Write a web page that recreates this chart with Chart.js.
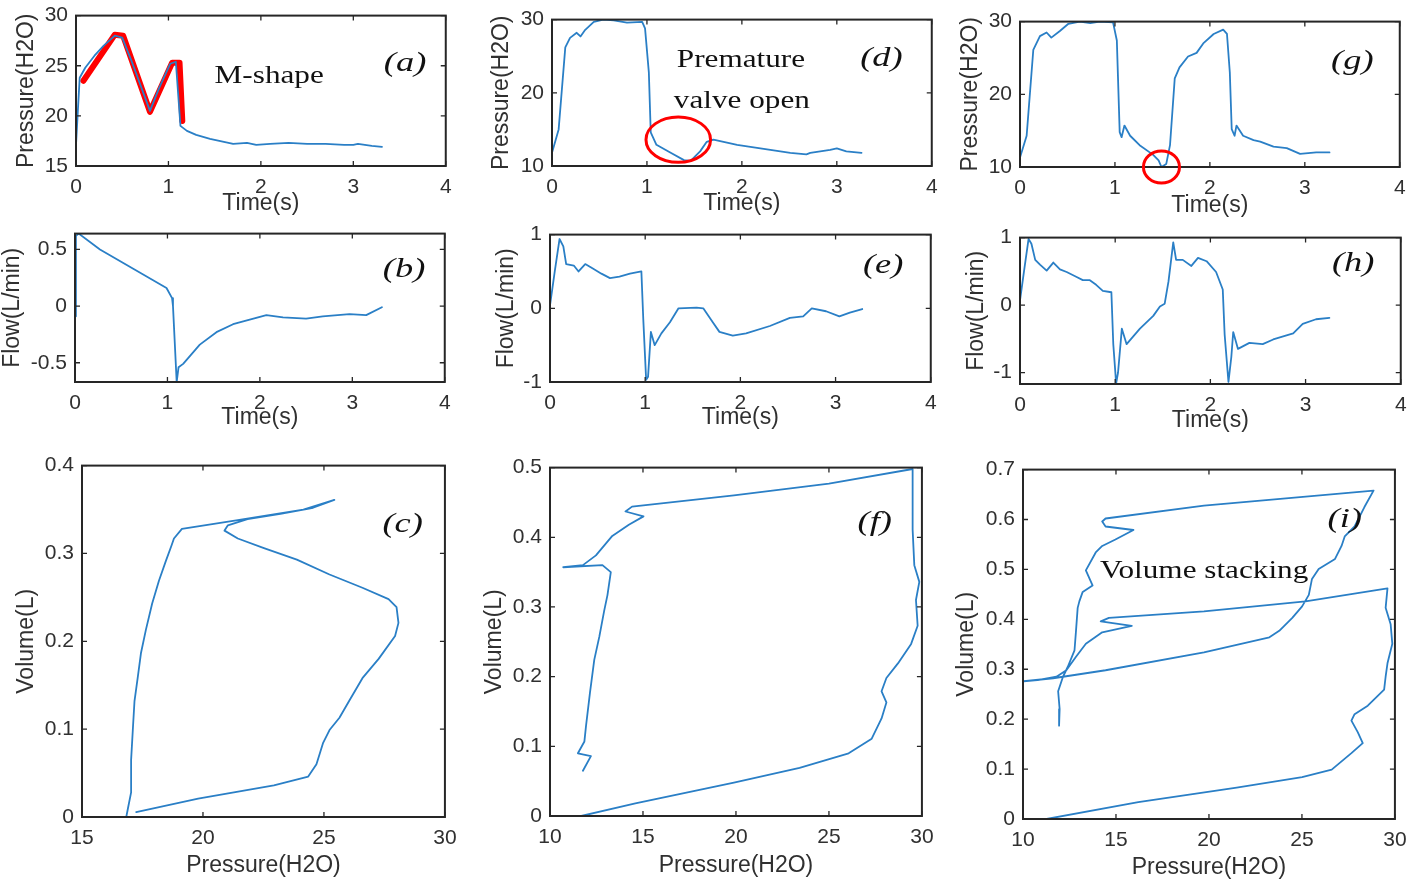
<!DOCTYPE html>
<html><head><meta charset="utf-8">
<script src="https://cdn.jsdelivr.net/npm/chart.js@4.4.1/dist/chart.umd.min.js"></script>
<style>
body{margin:0;background:#fff;width:1416px;height:885px;position:relative;overflow:hidden}
canvas{position:absolute}
</style>
</head><body>
<script>
// ---------- tick labels ----------
const timeTicks = [0, 1, 2, 3, 4];
const aPressTicks = [15, 20, 25, 30];
const dgPressTicks = [10, 20, 30];
const bFlowTicks = [-0.5, 0, 0.5];
const ehFlowTicks = [-1, 0, 1];
const cPressTicks = [15, 20, 25, 30];
const fiPressTicks = [10, 15, 20, 25, 30];
const cVolTicks = [0, 0.1, 0.2, 0.3, 0.4];
const fVolTicks = [0, 0.1, 0.2, 0.3, 0.4, 0.5];
const iVolTicks = [0, 0.1, 0.2, 0.3, 0.4, 0.5, 0.6, 0.7];

// ---------- (a) pressure, M-shape ----------
const aTime = [0, 0.02, 0.04, 0.1, 0.2, 0.3, 0.42, 0.5, 0.6, 0.7, 0.8, 0.9, 1.02, 1.08, 1.13, 1.2, 1.3, 1.45, 1.6, 1.7, 1.85, 1.95, 2.1, 2.3, 2.5, 2.7, 2.9, 3.0, 3.05, 3.2, 3.31];
const aPressure = [17.1, 20.5, 23.8, 24.8, 26.0, 27.0, 28.0, 27.8, 25.5, 23.0, 20.5, 22.8, 25.2, 25.4, 19.0, 18.5, 18.1, 17.7, 17.4, 17.2, 17.3, 17.1, 17.2, 17.3, 17.2, 17.2, 17.1, 17.1, 17.2, 17.0, 16.9];
const aMarkTime = [0.08, 0.42, 0.51, 0.8, 1.04, 1.12, 1.15];
const aMarkPressure = [23.5, 28.1, 28.0, 20.4, 25.3, 25.3, 19.5];

// ---------- (b) flow ----------
const bTime = [0, 0.01, 0.04, 0.27, 0.63, 0.99, 1.05, 1.06, 1.1, 1.12, 1.17, 1.35, 1.53, 1.71, 1.89, 2.07, 2.25, 2.5, 2.68, 2.97, 3.15, 3.32];
const bFlow = [-0.09, 0.62, 0.64, 0.5, 0.33, 0.16, 0.07, 0.0, -0.67, -0.54, -0.51, -0.34, -0.23, -0.16, -0.12, -0.08, -0.1, -0.11, -0.09, -0.07, -0.08, -0.01];

// ---------- (c) P-V loop ----------
const cPressure = [17.24, 19.8, 22.93, 24.35, 24.69, 24.96, 25.23, 25.64, 26.04, 26.59, 27.26, 27.94, 28.08, 28.0, 27.67, 26.59, 25.23, 23.88, 22.52, 21.44, 20.89, 21.03, 21.84, 23.2, 24.55, 25.43, 24.15, 21.44, 19.13, 18.8, 18.7, 18.46, 18.18, 17.9, 17.64, 17.44, 17.3, 17.17, 17.1, 17.03, 17.03, 16.9, 16.83];
const cVolume = [0.0055, 0.021, 0.036, 0.046, 0.06, 0.084, 0.099, 0.113, 0.132, 0.158, 0.18, 0.206, 0.221, 0.239, 0.248, 0.261, 0.276, 0.293, 0.306, 0.317, 0.326, 0.332, 0.339, 0.345, 0.352, 0.361, 0.35, 0.338, 0.328, 0.317, 0.309, 0.291, 0.269, 0.243, 0.213, 0.187, 0.158, 0.132, 0.099, 0.065, 0.028, 0.01, 0];

// ---------- (d) pressure, premature valve open ----------
const dTime = [0, 0.07, 0.14, 0.19, 0.26, 0.3, 0.35, 0.44, 0.54, 0.65, 0.79, 0.95, 0.98, 1.02, 1.04, 1.1, 1.25, 1.39, 1.46, 1.56, 1.63, 1.7, 1.95, 2.3, 2.51, 2.68, 2.72, 2.93, 3.0, 3.1, 3.26];
const dPressure = [11.8, 15, 26.2, 27.5, 28.2, 27.7, 28.6, 29.7, 30, 29.9, 29.6, 29.7, 28.8, 22.8, 14.6, 12.9, 11.8, 10.8, 10.7, 12, 13.3, 13.6, 12.9, 12.2, 11.8, 11.6, 11.8, 12.2, 12.4, 12.0, 11.8];

// ---------- (e) flow ----------
const eTime = [0, 0.05, 0.1, 0.14, 0.17, 0.25, 0.3, 0.37, 0.45, 0.54, 0.63, 0.73, 0.84, 0.96, 0.98, 1.01, 1.03, 1.06, 1.1, 1.17, 1.26, 1.35, 1.54, 1.61, 1.71, 1.78, 1.92, 2.06, 2.31, 2.52, 2.66, 2.75, 2.9, 3.04, 3.15, 3.28];
const eFlow = [0.04, 0.5, 0.94, 0.84, 0.6, 0.58, 0.5, 0.6, 0.54, 0.47, 0.41, 0.43, 0.47, 0.5, -0.15, -0.97, -0.93, -0.32, -0.5, -0.34, -0.19, 0, 0.01, 0, -0.19, -0.32, -0.37, -0.34, -0.24, -0.13, -0.11, 0, -0.04, -0.11, -0.06, -0.01];

// ---------- (f) P-V loop ----------
const fPressure = [11.68, 14.59, 19.89, 23.42, 26.06, 27.3, 27.83, 28.09, 27.83, 28.09, 28.71, 29.42, 29.77, 29.68, 29.86, 29.59, 29.5, 29.5, 25.0, 19.89, 14.41, 14.06, 15.03, 14.24, 13.35, 12.47, 11.77, 10.71, 12.82, 13.27, 13.09, 12.91, 12.65, 12.38, 12.15, 11.94, 11.85, 11.5, 12.2, 11.77];
const fVolume = [0, 0.018, 0.048, 0.069, 0.09, 0.111, 0.14, 0.163, 0.179, 0.198, 0.219, 0.247, 0.273, 0.31, 0.336, 0.36, 0.411, 0.498, 0.477, 0.46, 0.444, 0.437, 0.43, 0.418, 0.402, 0.374, 0.36, 0.357, 0.36, 0.35, 0.317, 0.294, 0.257, 0.224, 0.177, 0.13, 0.107, 0.09, 0.086, 0.065];

// ---------- (g) pressure, double trigger ----------
const gTime = [0, 0.07, 0.14, 0.21, 0.28, 0.33, 0.42, 0.51, 0.63, 0.74, 0.84, 0.98, 1.02, 1.05, 1.07, 1.1, 1.16, 1.26, 1.4, 1.46, 1.49, 1.54, 1.58, 1.63, 1.68, 1.77, 1.86, 1.93, 2.04, 2.14, 2.18, 2.21, 2.23, 2.26, 2.28, 2.35, 2.46, 2.53, 2.67, 2.81, 2.95, 3.12, 3.26];
const gPressure = [11.3, 14.3, 26.1, 28, 28.5, 27.8, 28.7, 29.7, 30, 29.8, 30, 29.9, 27.4, 14.8, 14.1, 15.7, 14.3, 13, 11.7, 10.9, 10, 10.4, 13, 22.2, 23.7, 25.2, 25.7, 27, 28.3, 28.9, 28.3, 23, 15.2, 14.3, 15.7, 14.3, 13.7, 13.5, 12.8, 12.6, 11.8, 12, 12];

// ---------- (h) flow ----------
const hTime = [0, 0.05, 0.09, 0.12, 0.16, 0.21, 0.28, 0.35, 0.42, 0.49, 0.59, 0.66, 0.73, 0.8, 0.87, 0.96, 0.98, 1.01, 1.03, 1.07, 1.12, 1.26, 1.4, 1.47, 1.52, 1.56, 1.61, 1.64, 1.71, 1.8, 1.87, 1.96, 2.06, 2.13, 2.15, 2.19, 2.22, 2.24, 2.29, 2.41, 2.55, 2.66, 2.87, 2.97, 3.11, 3.25];
const hFlow = [0.07, 0.58, 0.98, 0.91, 0.67, 0.6, 0.51, 0.63, 0.53, 0.49, 0.42, 0.37, 0.37, 0.3, 0.21, 0.19, -0.58, -1.16, -1.0, -0.35, -0.58, -0.35, -0.16, -0.02, 0.02, 0.35, 0.93, 0.67, 0.67, 0.58, 0.7, 0.65, 0.49, 0.23, -0.44, -1.14, -0.77, -0.4, -0.65, -0.56, -0.58, -0.51, -0.42, -0.28, -0.21, -0.19];

// ---------- (i) P-V loop, volume stacking ----------
const iPressure = [11.27, 16.2, 21.49, 25.01, 26.6, 27.66, 28.27, 28.0, 27.66, 27.83, 28.54, 29.42, 29.5, 29.6, 29.86, 29.77, 29.5, 29.6, 25.19, 19.73, 14.62, 14.18, 15.85, 14.26, 13.38, 12.85, 12.33, 11.8, 10.92, 10.04, 11.62, 14.44, 19.73, 23.25, 23.78, 24.48, 25.01, 25.37, 25.54, 25.9, 26.78, 27.13, 27.3, 27.83, 28.36, 28.85, 19.73, 14.44, 14.26, 14.44, 15.94, 14.97, 14.26, 13.91, 13.38, 13.74, 13.21, 13.03, 12.94, 12.85, 12.77, 12.41, 12.15, 11.89, 11.97, 11.94];
const iVolume = [0, 0.034, 0.063, 0.084, 0.099, 0.132, 0.152, 0.174, 0.197, 0.21, 0.227, 0.259, 0.285, 0.312, 0.351, 0.39, 0.423, 0.462, 0.436, 0.416, 0.403, 0.396, 0.387, 0.374, 0.351, 0.325, 0.298, 0.285, 0.279, 0.276, 0.282, 0.298, 0.334, 0.364, 0.377, 0.403, 0.426, 0.449, 0.481, 0.501, 0.521, 0.547, 0.566, 0.586, 0.625, 0.658, 0.628, 0.602, 0.596, 0.586, 0.579, 0.56, 0.547, 0.534, 0.498, 0.468, 0.455, 0.436, 0.423, 0.377, 0.338, 0.305, 0.285, 0.256, 0.22, 0.187];

// ---------- styles ----------
const SANS = "'Liberation Sans', Arial, sans-serif";
const SERIF = "'Liberation Serif', 'Times New Roman', serif";
const TXT = '#303030';
const AXIS = '#262626';
const BLUE = '#2a7fc6';
const RED = '#ff0000';
const TICK_SIZE = 21, TITLE_SIZE = 23, LH = 1.2;

const framePlugin = {
  id: 'frame',
  afterDraw(chart) {
    const cfg = chart.options.plugins.frame;
    const {ctx, chartArea: {left, top, right, bottom}} = chart;
    const xs = chart.scales.x, ys = chart.scales.y;
    ctx.save();
    ctx.strokeStyle = AXIS;
    ctx.lineWidth = 1.3;
    ctx.beginPath();
    cfg.xTicks.forEach(v => {
      const p = xs.getPixelForValue(v);
      ctx.moveTo(p, bottom); ctx.lineTo(p, bottom - 5);
      ctx.moveTo(p, top); ctx.lineTo(p, top + 5);
    });
    cfg.yTicks.forEach(v => {
      const p = ys.getPixelForValue(v);
      ctx.moveTo(left, p); ctx.lineTo(left + 5, p);
      ctx.moveTo(right, p); ctx.lineTo(right - 5, p);
    });
    ctx.stroke();
    ctx.lineWidth = 2;
    ctx.strokeRect(left, top, right - left, bottom - top);
    (cfg.ellipses || []).forEach(e => {
      const cx = xs.getPixelForValue(e.x), cy = ys.getPixelForValue(e.y);
      const rx = Math.abs(xs.getPixelForValue(e.x + e.rx) - cx);
      const ry = Math.abs(ys.getPixelForValue(e.y + e.ry) - cy);
      ctx.strokeStyle = RED; ctx.lineWidth = 3;
      ctx.beginPath(); ctx.ellipse(cx, cy, rx, ry, 0, 0, Math.PI * 2); ctx.stroke();
    });
    (cfg.texts || []).forEach(t => {
      const px = xs.getPixelForValue(t.x), py = ys.getPixelForValue(t.y);
      ctx.save();
      ctx.translate(px, py);
      ctx.scale(t.sx || 1.2, 1);
      ctx.fillStyle = '#111';
      ctx.font = t.font;
      ctx.textAlign = 'center';
      ctx.textBaseline = 'middle';
      ctx.fillText(t.text, 0, 0);
      ctx.restore();
    });
    ctx.restore();
  }
};

const LABEL_FONT = 'italic 28px ' + SERIF;
const NOTE_FONT = '26px ' + SERIF;

const panels = [
  { rect: {l: 76, t: 7, r: 446, b: 166}, xMin: 0, xMax: 4, yMin: 15, yMax: 30, xTicks: timeTicks, yTicks: aPressTicks,
    xTitle: 'Time(s)', yTitle: 'Pressure(H2O)', yTitleX: 27, xTitleY: 204,
    series: [{xs: aTime, ys: aPressure, color: BLUE, width: 1.8}, {xs: aMarkTime, ys: aMarkPressure, color: RED, width: 6}],
    texts: [{text: '(a)', x: 3.56, y: 25.2, font: LABEL_FONT, sx: 1.3}, {text: 'M-shape', x: 2.09, y: 24.0, font: NOTE_FONT}] },
  { rect: {l: 552, t: 11, r: 932, b: 166}, xMin: 0, xMax: 4, yMin: 10, yMax: 30, xTicks: timeTicks, yTicks: dgPressTicks,
    xTitle: 'Time(s)', yTitle: 'Pressure(H2O)', yTitleX: 502, xTitleY: 204,
    series: [{xs: dTime, ys: dPressure, color: BLUE, width: 1.8}],
    ellipses: [{x: 1.33, y: 13.6, rx: 0.34, ry: 3.1}],
    texts: [{text: '(d)', x: 3.47, y: 24.6, font: LABEL_FONT, sx: 1.3}, {text: 'Premature', x: 1.99, y: 24.5, font: NOTE_FONT}, {text: 'valve open', x: 2.0, y: 18.9, font: NOTE_FONT}] },
  { rect: {l: 1020, t: 13, r: 1400, b: 167}, xMin: 0, xMax: 4, yMin: 10, yMax: 30, xTicks: timeTicks, yTicks: dgPressTicks,
    xTitle: 'Time(s)', yTitle: 'Pressure(H2O)', yTitleX: 971, xTitleY: 206,
    series: [{xs: gTime, ys: gPressure, color: BLUE, width: 1.8}],
    ellipses: [{x: 1.49, y: 10.0, rx: 0.19, ry: 2.2}],
    texts: [{text: '(g)', x: 3.5, y: 24.5, font: LABEL_FONT, sx: 1.3}] },
  { rect: {l: 75, t: 225, r: 445, b: 382}, xMin: 0, xMax: 4, yMin: -0.67, yMax: 0.64, xTicks: timeTicks, yTicks: bFlowTicks,
    xTitle: 'Time(s)', yTitle: 'Flow(L/min)', yTitleX: 13, xTitleY: 418,
    series: [{xs: bTime, ys: bFlow, color: BLUE, width: 1.8}],
    texts: [{text: '(b)', x: 3.56, y: 0.325, font: LABEL_FONT, sx: 1.3}] },
  { rect: {l: 550, t: 226, r: 931, b: 382}, xMin: 0, xMax: 4, yMin: -1, yMax: 1, xTicks: timeTicks, yTicks: ehFlowTicks,
    xTitle: 'Time(s)', yTitle: 'Flow(L/min)', yTitleX: 507, xTitleY: 418,
    series: [{xs: eTime, ys: eFlow, color: BLUE, width: 1.8}],
    texts: [{text: '(e)', x: 3.5, y: 0.58, font: LABEL_FONT, sx: 1.3}] },
  { rect: {l: 1020, t: 229, r: 1401, b: 384}, xMin: 0, xMax: 4, yMin: -1.17, yMax: 1.0, xTicks: timeTicks, yTicks: ehFlowTicks,
    xTitle: 'Time(s)', yTitle: 'Flow(L/min)', yTitleX: 977, xTitleY: 421,
    series: [{xs: hTime, ys: hFlow, color: BLUE, width: 1.8}],
    texts: [{text: '(h)', x: 3.5, y: 0.61, font: LABEL_FONT, sx: 1.3}] },
  { rect: {l: 82, t: 457, r: 451, b: 817}, xMin: 15, xMax: 30, yMin: 0, yMax: 0.4, xTicks: cPressTicks, yTicks: cVolTicks,
    xTitle: 'Pressure(H2O)', yTitle: 'Volume(L)', yTitleX: 27, xTitleY: 866,
    series: [{xs: cPressure, ys: cVolume, color: BLUE, width: 1.8}],
    texts: [{text: '(c)', x: 28.25, y: 0.333, font: LABEL_FONT, sx: 1.3}] },
  { rect: {l: 550, t: 459, r: 928, b: 816}, xMin: 10, xMax: 30, yMin: 0, yMax: 0.5, xTicks: fiPressTicks, yTicks: fVolTicks,
    xTitle: 'Pressure(H2O)', yTitle: 'Volume(L)', yTitleX: 495, xTitleY: 866,
    series: [{xs: fPressure, ys: fVolume, color: BLUE, width: 1.8}],
    texts: [{text: '(f)', x: 27.46, y: 0.421, font: LABEL_FONT, sx: 1.3}] },
  { rect: {l: 1023, t: 461, r: 1401, b: 819}, xMin: 10, xMax: 30, yMin: 0, yMax: 0.7, xTicks: fiPressTicks, yTicks: iVolTicks,
    xTitle: 'Pressure(H2O)', yTitle: 'Volume(L)', yTitleX: 967, xTitleY: 868,
    series: [{xs: iPressure, ys: iVolume, color: BLUE, width: 1.8}],
    texts: [{text: '(i)', x: 27.3, y: 0.6, font: LABEL_FONT, sx: 1.3}, {text: 'Volume stacking', x: 19.74, y: 0.497, font: NOTE_FONT}] }
];

function makePanel(p) {
  const PADL = 80, PADT = 12, PADR = 14, PADB = 62;
  const w = (p.rect.r - p.rect.l) + PADL + PADR;
  const h = (p.rect.b - p.rect.t) + PADT + PADB;
  const cv = document.createElement('canvas');
  cv.width = w; cv.height = h;
  cv.style.left = (p.rect.l - PADL) + 'px';
  cv.style.top = (p.rect.t - PADT) + 'px';
  cv.style.width = w + 'px'; cv.style.height = h + 'px';
  document.body.appendChild(cv);
  const tickFont = {family: SANS, size: TICK_SIZE, lineHeight: LH};
  const titleFont = {family: SANS, size: TITLE_SIZE, lineHeight: LH};
  const tHalf = TITLE_SIZE * LH / 2;
  const kHalf = TICK_SIZE * LH / 2;
  new Chart(cv, {
    type: 'scatter',
    data: {
      datasets: p.series.map(s => ({
        data: s.xs.map((v, i) => ({x: v, y: s.ys[i]})),
        showLine: true, pointRadius: 0, pointHoverRadius: 0,
        borderColor: s.color, backgroundColor: s.color, borderWidth: s.width,
        tension: 0, fill: false, borderJoinStyle: 'round', borderCapStyle: 'round'
      }))
    },
    options: {
      responsive: false, animation: false, devicePixelRatio: 1,
      events: [],
      layout: {padding: {left: 0, top: PADT, right: PADR, bottom: 0}},
      plugins: {
        legend: {display: false}, tooltip: {enabled: false},
        frame: {xTicks: p.xTicks, yTicks: p.yTicks, ellipses: p.ellipses, texts: p.texts}
      },
      scales: {
        x: {
          type: 'linear', position: 'bottom', min: p.xMin, max: p.xMax,
          grid: {display: false, drawTicks: false}, border: {display: false},
          afterBuildTicks: s => { s.ticks = p.xTicks.map(v => ({value: v})); },
          afterFit: s => { s.height = PADB; },
          ticks: {font: tickFont, color: TXT, padding: 21 - kHalf, maxRotation: 0, minRotation: 0, autoSkip: false, callback: v => String(v)},
          title: {display: true, text: p.xTitle, font: titleFont, color: TXT,
                  padding: {top: 0, bottom: (p.rect.b + PADB) - tHalf - p.xTitleY}}
        },
        y: {
          type: 'linear', position: 'left', min: p.yMin, max: p.yMax,
          grid: {display: false, drawTicks: false}, border: {display: false},
          afterBuildTicks: s => { s.ticks = p.yTicks.map(v => ({value: v})); },
          afterFit: s => { s.width = PADL; },
          ticks: {font: tickFont, color: TXT, padding: 8, autoSkip: false, callback: v => String(v)},
          title: {display: true, text: p.yTitle, font: titleFont, color: TXT,
                  padding: {top: p.yTitleX - (p.rect.l - PADL) - tHalf, bottom: 0}}
        }
      }
    },
    plugins: [framePlugin]
  });
}

panels.forEach(makePanel);
</script>
</body></html>
